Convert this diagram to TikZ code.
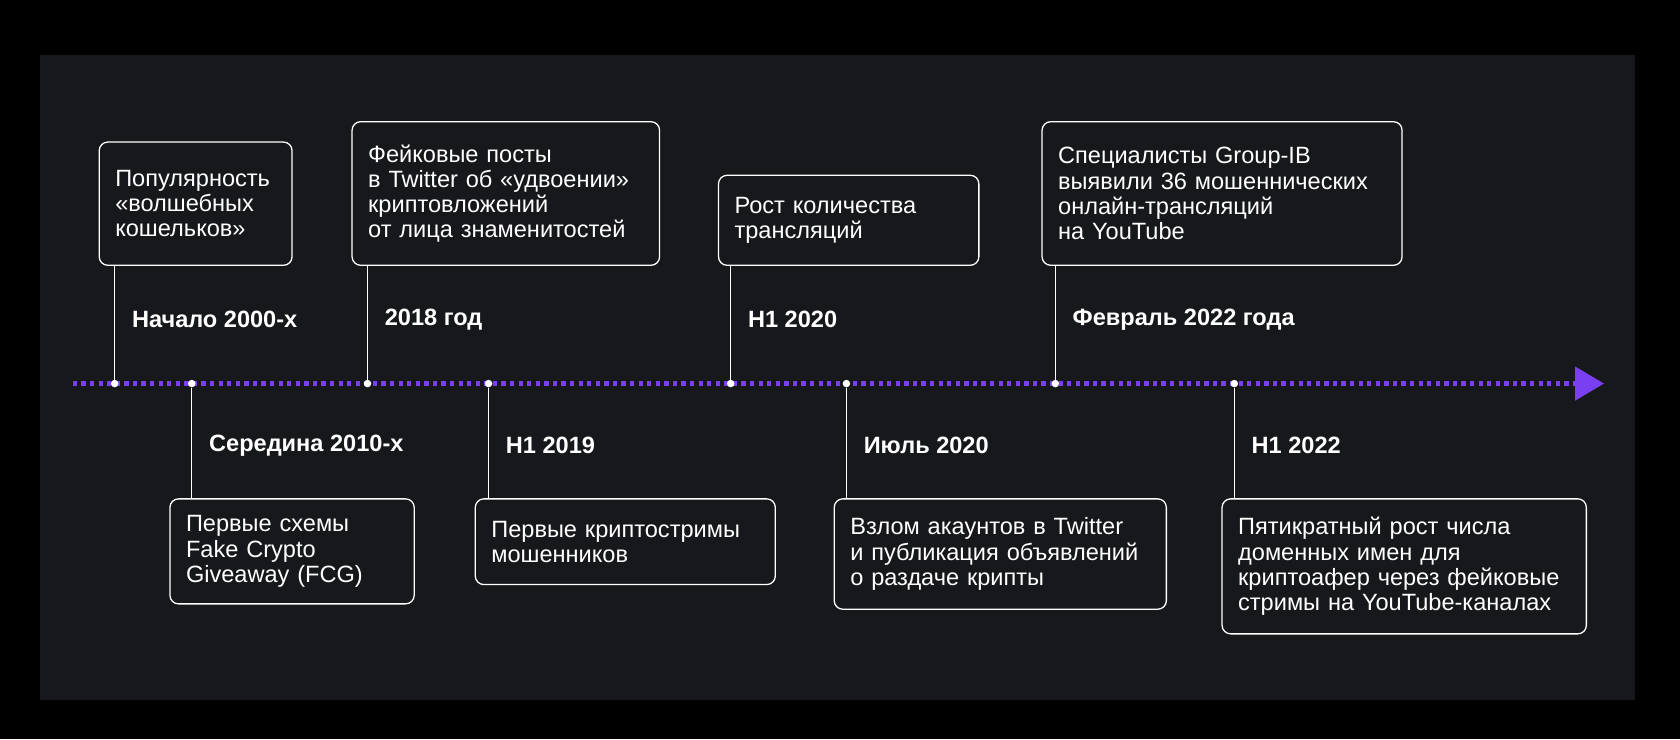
\documentclass[tikz,border=0pt]{standalone}
\usepackage{fontspec}
\setmainfont{Liberation Sans}
\definecolor{panel}{HTML}{17181C}
\definecolor{violet}{HTML}{7B3FF2}
\tikzset{
 ev/.style={draw=white,line width=1.2pt,rounded corners=8pt,text=white,anchor=north west,align=left,inner xsep=15pt,inner ysep=8pt,font=\fontsize{22}{23.5}\selectfont},
 when/.style={text=white,anchor=west,font=\bfseries\fontsize{22}{24}\selectfont,inner sep=0pt},
 stem/.style={white,line width=1.2pt},
 dot/.style={circle,fill=white,inner sep=0pt,minimum size=7pt}
}
\begin{document}
\begin{tikzpicture}[x=1pt,y=-1pt]
\fill[black] (0,0) rectangle (1568,690);
\fill[panel] (37,51) rectangle (1526,653);
\useasboundingbox (0,0) rectangle (1568,690);
\coordinate (ls) at (68,358);
\coordinate (le) at (1470,358);
\draw[violet,line width=4pt,dash pattern=on 4pt off 4pt] (ls) -- (le);
\fill[violet] (1470,342) -- (1497,358) -- (1470,374) -- cycle;
% top
\node[ev,text width=150pt,minimum height=115pt] (b1) at (92,132) {Популярность\\«волшебных\\кошельков»};
\node[ev,text width=257pt,minimum height=134pt] (b2) at (328,113) {Фейковые посты\\в Twitter об «удвоении»\\криптовложений\\от лица знаменитостей};
\node[ev,text width=213pt,minimum height=84pt] (b3) at (670,163) {Рост количества\\трансляций};
\node[ev,text width=306pt,minimum height=134pt] (b4) at (972,113) {Специалисты Group-IB\\выявили 36 мошеннических\\онлайн-трансляций\\на YouTube};
% bottom
\node[ev,text width=198pt,minimum height=98pt] (b5) at (158,465) {Первые схемы\\Fake Crypto\\Giveaway (FCG)};
\node[ev,text width=250pt,minimum height=80pt] (b6) at (443,465) {Первые криптостримы\\мошенников};
\node[ev,text width=280pt,minimum height=103pt] (b7) at (778,465) {Взлом акаунтов в Twitter\\и публикация объявлений\\о раздаче крипты};
\node[ev,text width=310pt,minimum height=126pt] (b8) at (1140,465) {Пятикратный рост числа\\доменных имен для\\криптоафер через фейковые\\стримы на YouTube-каналах};
% dots
\node[dot] (d1) at (107,358) {}; \node[dot] (d2) at (343,358) {};
\node[dot] (d3) at (682,358) {}; \node[dot] (d4) at (985,358) {};
\node[dot] (d5) at (179,358) {}; \node[dot] (d6) at (456,358) {};
\node[dot] (d7) at (790,358) {}; \node[dot] (d8) at (1152,358) {};
\draw[stem] (d1) -- (d1|-b1.south); \draw[stem] (d2) -- (d2|-b2.south);
\draw[stem] (d3) -- (d3|-b3.south); \draw[stem] (d4) -- (d4|-b4.south);
\draw[stem] (d5) -- (d5|-b5.north); \draw[stem] (d6) -- (d6|-b6.north);
\draw[stem] (d7) -- (d7|-b7.north); \draw[stem] (d8) -- (d8|-b8.north);
\node[when] (w1) at (123,298) {Начало 2000-х};
\node[when] (w2) at (359,298) {2018 год};
\node[when] (w3) at (698,298) {H1 2020};
\node[when] (w4) at (1001,298) {Февраль 2022 года};
\node[when] (w5) at (195,416) {Середина 2010-х};
\node[when] (w6) at (472,416) {H1 2019};
\node[when] (w7) at (806,416) {Июль 2020};
\node[when] (w8) at (1168,416) {H1 2022};
\end{tikzpicture}
\end{document}
